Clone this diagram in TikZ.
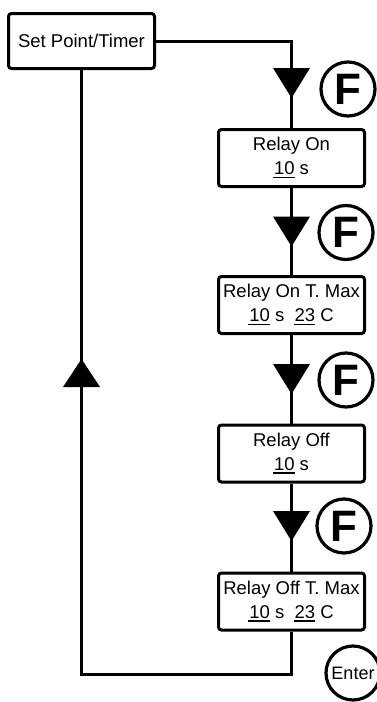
\documentclass[tikz,border=0pt]{standalone}
\usepackage{fontspec}
\setmainfont{Liberation Sans}
\newcommand\uln[1]{\leavevmode\setbox0=\hbox{#1}\rlap{\hspace{-1pt}\raisebox{-3.5pt}{\rule{\dimexpr\wd0+1pt\relax}{1.8pt}}}\box0\relax}
\tikzset{
  box/.style={draw, line width=3pt, rounded corners=3pt, minimum width=146pt,
    minimum height=57pt, inner sep=0pt, align=center,
    font=\fontsize{18.5}{24}\selectfont},
  wire/.style={line width=3pt},
  keyc/.style={circle, draw, line width=3.2pt, minimum size=54pt, inner sep=0pt},
  fkey/.style={keyc, font=\bfseries\fontsize{44}{44}\selectfont},
  downtri/.pic={\fill (-18.5,-15) -- (18.5,-15) -- (0,15) -- cycle;},
  uptri/.pic={\fill (-18.5,14) -- (18.5,14) -- (0,-14) -- cycle;}
}
\begin{document}
\begin{tikzpicture}[x=1pt,y=-1pt]
\fill[white] (0,0) rectangle (377,702);
\useasboundingbox (0,0) rectangle (377,702);

\node[box, minimum height=55pt] (sp) at (81.5,41) {Set Point/Timer};
\node[box] (r1) at (291.5,158) {Relay On\\\uln{10} s};
\node[box] (r2) at (291.5,305) {Relay On T. Max\\\uln{10} s~~\uln{23} C};
\node[box] (r3) at (291.5,453.5) {Relay Off\\\uln{10} s};
\node[box] (r4) at (291.5,601.5) {Relay Off T. Max\\\uln{10} s~~\uln{23} C};

\node[fkey] (f1) at (348,89) {F};
\node[fkey] (f2) at (346,232.5) {F};
\node[fkey] (f3) at (346,380) {F};
\node[fkey] (f4) at (344,526) {F};
\node[keyc, font=\fontsize{18}{18}\selectfont] (en) at (353,673) {Enter};

\coordinate (bl) at (81.5,674);
\draw[wire] (sp.east) -| (r1.north);
\draw[wire] (r1.south) -- (r2.north);
\draw[wire] (r2.south) -- (r3.north);
\draw[wire] (r3.south) -- (r4.north);
\draw[wire] (r4.south) |- (bl) -- (sp.south);

\pic at (291.5,83) {downtri};
\pic at (291.5,231.5) {downtri};
\pic at (291.5,379) {downtri};
\pic at (291.5,526) {downtri};
\pic at (81.5,373) {uptri};
\end{tikzpicture}
\end{document}
